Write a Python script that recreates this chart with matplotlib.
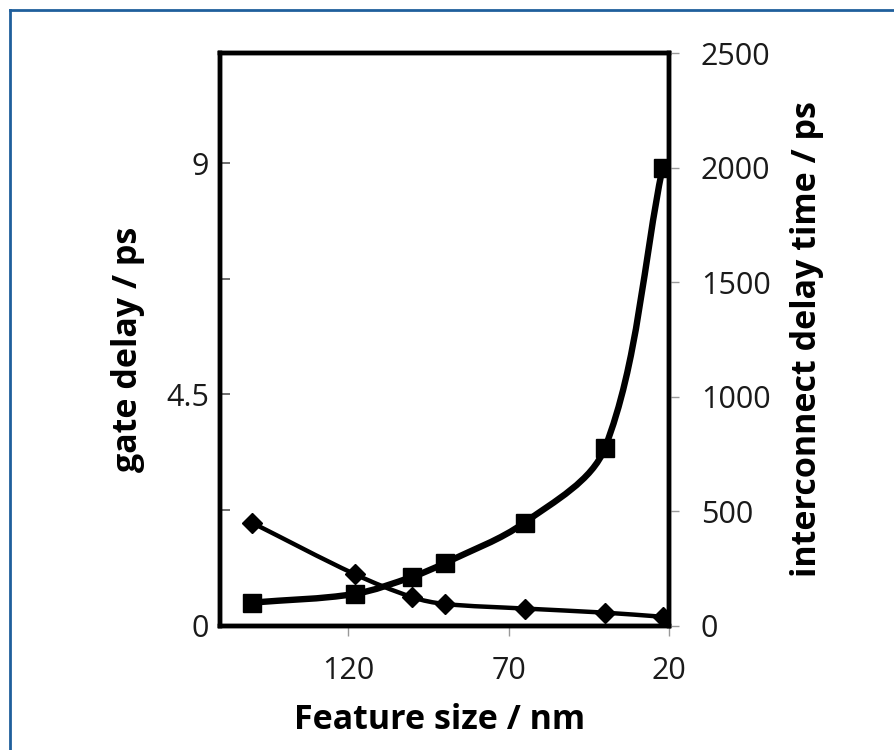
import numpy as np
import matplotlib
matplotlib.use("Agg")
import matplotlib.pyplot as plt
from matplotlib.path import Path
from matplotlib.patches import PathPatch
from matplotlib.lines import Line2D

plt.rcParams['font.family'] = ['Open Sans', 'DejaVu Sans']

# ---- data ----
feature_size = [150, 118, 100, 90, 65, 40, 22]          # nm
gate_delay = [2.00, 1.00, 0.55, 0.42, 0.33, 0.25, 0.17]  # ps (left axis)
interconnect_delay = [100, 138, 213, 272, 450, 775, 2000]  # ps (right axis)

x_ticks = [120, 70, 20]
left_ticks = [0, 2.25, 4.5, 6.75, 9]
left_tick_labels = ['0', '', '4.5', '', '9']
right_ticks = [0, 500, 1000, 1500, 2000, 2500]


def smooth_path(axis, xs, ys):
    """Excel-like smoothed line: cubic Bezier through the data points, with
    tangents weighted by the chord lengths measured in display space."""
    tr = axis.transData
    pts = tr.transform(np.column_stack([xs, ys]).astype(float))
    n = len(pts)
    cout = [None] * n
    cin = [None] * n
    for i in range(n):
        p_prev = pts[i - 1] if i > 0 else pts[i]
        p_next = pts[i + 1] if i < n - 1 else pts[i]
        d1 = np.hypot(*(pts[i] - p_prev))
        d2 = np.hypot(*(p_next - pts[i]))
        T = p_next - p_prev
        tot = d1 + d2 if d1 + d2 > 0 else 1.0
        cout[i] = pts[i] + T * d2 / (3.0 * tot)
        cin[i] = pts[i] - T * d1 / (3.0 * tot)
    verts = [pts[0]]
    codes = [Path.MOVETO]
    for i in range(n - 1):
        verts += [cout[i], cin[i + 1], pts[i + 1]]
        codes += [Path.CURVE4] * 3
    verts = tr.inverted().transform(np.array(verts))
    return Path(verts, codes)


W, H = 894, 750
fig = plt.figure(figsize=(W / 100, H / 100), dpi=100)
ax = fig.add_axes([220 / W, 1 - 625.5 / H, (669 - 220) / W, (625.5 - 53.3) / H])
ax2 = ax.twinx()

ax.set_xlim(160, 20)
ax.set_ylim(0, 11.14)
ax2.set_ylim(0, 2500)

# gate delay (left axis)
ax.add_patch(PathPatch(smooth_path(ax, feature_size, gate_delay), facecolor='none',
                       edgecolor='black', lw=3.2, capstyle='round', joinstyle='round',
                       zorder=3))
ax.plot(feature_size, gate_delay, linestyle='none', marker='D', ms=10.5,
        color='black', zorder=4)

# interconnect delay (right axis)
ax2.add_patch(PathPatch(smooth_path(ax2, feature_size, interconnect_delay),
                        facecolor='none', edgecolor='black', lw=4.6,
                        capstyle='round', joinstyle='round', zorder=3))
ax2.plot(feature_size, interconnect_delay, linestyle='none', marker='s', ms=12.5,
         color='black', zorder=4)

ax.set_xticks(x_ticks)
ax.set_yticks(left_ticks)
ax.set_yticklabels(left_tick_labels)
ax2.set_yticks(right_ticks)

for a in (ax, ax2):
    for s in a.spines.values():
        s.set_linewidth(3.2)
        s.set_color('black')

ax.tick_params(axis='y', direction='in', length=7, width=1.2, color='#555555',
               labelsize=22, pad=8, labelcolor='#1a1a1a')
ax.tick_params(axis='x', direction='out', length=7, width=1.0, color='#999999',
               labelsize=22, pad=15, labelcolor='#1a1a1a')
ax2.tick_params(axis='y', direction='out', length=7, width=1.0, color='#999999',
                labelsize=22, pad=16, labelcolor='#1a1a1a')

ax.set_xlabel('Feature size / nm', fontsize=24.5, fontweight='bold')
ax.xaxis.set_label_coords(0.49, -0.135)
ax.set_ylabel('gate delay / ps', fontsize=24.5, fontweight='bold')
ax.yaxis.set_label_coords(-0.167, 0.483)
ax2.set_ylabel('interconnect delay time / ps', fontsize=24.5, fontweight='bold')
ax2.yaxis.set_label_coords(1.27, 0.5)

# blue frame (top and left edges visible)
frame_col = '#1f5f9c'
fig.add_artist(Line2D([9.5 / W, 1.0], [1 - 10 / H, 1 - 10 / H], color=frame_col,
                      lw=2, transform=fig.transFigure))
fig.add_artist(Line2D([9.5 / W, 9.5 / W], [0, 1 - 10 / H], color=frame_col,
                      lw=2, transform=fig.transFigure))

fig.savefig('out.png', dpi=100)
